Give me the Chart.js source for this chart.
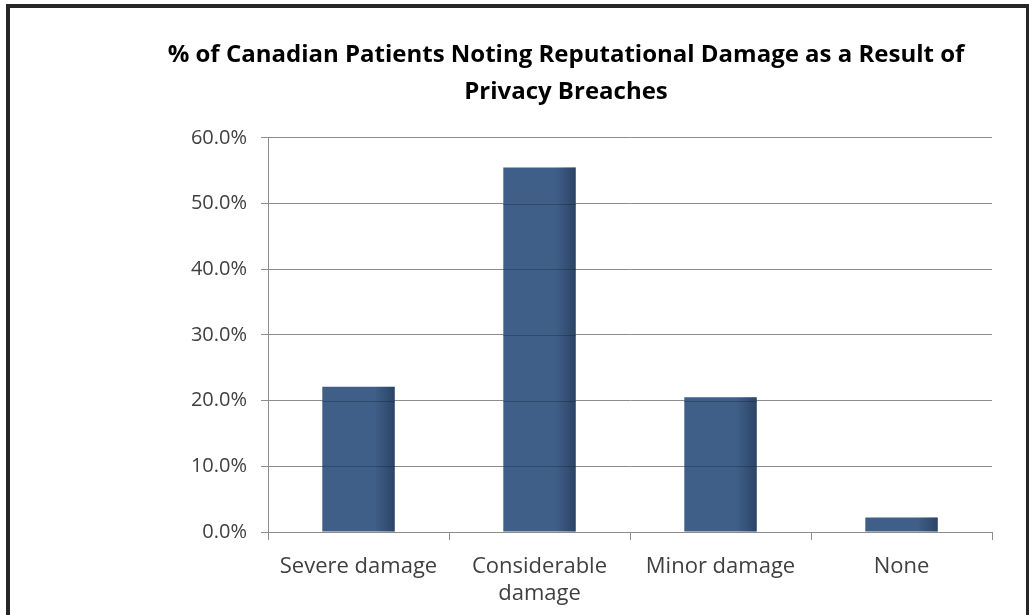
<!DOCTYPE html>
<html>
<head>
<meta charset="utf-8">
<script src="https://cdn.jsdelivr.net/npm/chart.js@4.4.0/dist/chart.umd.min.js"></script>
<style>
  body { margin: 0; background: #fff; }
  #wrap { position: relative; width: 1029px; height: 615px; overflow: hidden; }
  #frame {
    position: absolute; left: 6px; top: 4px; width: 1016px; height: 640px;
    border-top: 4px solid #262626; border-left: 4px solid #262626; border-right: 3px solid #262626;
  }
  #chart { position: absolute; left: 0; top: 0; }
</style>
</head>
<body>
<div id="wrap">
  <div id="frame"></div>
  <canvas id="chart" width="1029" height="615"></canvas>
</div>
<script>
const titleLines = ['% of Canadian Patients Noting Reputational Damage as a Result of', 'Privacy Breaches'];
const categories = ['Severe damage', ['Considerable', 'damage'], 'Minor damage', 'None'];
const percentValues = [22.1, 55.5, 20.5, 2.2];
const yTicks = [0, 10, 20, 30, 40, 50, 60];

const axisGray = '#8c8c8c';
const textGray = '#404040';

// darker right edge on each bar (Excel bevel) + gridlines showing through the bars
const barShade = {
  id: 'barShade',
  afterDatasetsDraw(chart) {
    const ctx = chart.ctx;
    const yScale = chart.scales.y;
    chart.getDatasetMeta(0).data.forEach(bar => {
      const p = bar.getProps(['x', 'y', 'base', 'width'], true);
      const left = p.x - p.width / 2;
      const g = ctx.createLinearGradient(left, 0, left + p.width, 0);
      g.addColorStop(0, 'rgba(20,35,60,0)');
      g.addColorStop(0.72, 'rgba(20,35,60,0)');
      g.addColorStop(1, 'rgba(20,35,60,0.45)');
      ctx.save();
      ctx.fillStyle = g;
      ctx.fillRect(left, p.y, p.width, p.base - p.y);
      ctx.strokeStyle = 'rgba(10,20,40,0.3)';
      ctx.lineWidth = 1;
      yTicks.forEach(v => {
        const py = Math.round(yScale.getPixelForValue(v)) + 0.5;
        if (py > p.y + 1 && py < p.base - 1) {
          ctx.beginPath();
          ctx.moveTo(left, py);
          ctx.lineTo(left + p.width, py);
          ctx.stroke();
        }
      });
      ctx.restore();
    });
  }
};

const ctx = document.getElementById('chart').getContext('2d');
new Chart(ctx, {
  type: 'bar',
  data: {
    labels: categories,
    datasets: [{
      data: percentValues,
      backgroundColor: '#3f5f88',
      borderWidth: 0,
      categoryPercentage: 1,
      barPercentage: 0.4
    }]
  },
  options: {
    responsive: false,
    animation: false,
    layout: { padding: { left: 140, right: 37, top: 36, bottom: 0 } },
    plugins: {
      legend: { display: false },
      tooltip: { enabled: false },
      title: {
        display: true,
        text: titleLines,
        color: '#000',
        font: { family: 'Open Sans', size: 24, weight: 'bold', lineHeight: 1.56 },
        padding: { top: 0, bottom: 27 }
      }
    },
    scales: {
      x: {
        afterFit: s => { s.height = 83; },
        grid: { drawOnChartArea: false, tickLength: 8, color: axisGray, offset: true },
        border: { color: axisGray },
        ticks: {
          color: textGray,
          font: { family: 'Open Sans', size: 22, lineHeight: 1.2 },
          padding: 14,
          maxRotation: 0,
          autoSkip: false
        }
      },
      y: {
        min: 0,
        max: 60,
        afterFit: s => { s.width = 128; },
        afterBuildTicks: s => { s.ticks = yTicks.map(v => ({ value: v })); },
        grid: { color: axisGray, tickLength: 7 },
        border: { color: axisGray },
        ticks: {
          color: textGray,
          font: { family: 'Open Sans', size: 20 },
          padding: 14,
          callback: v => v.toFixed(1) + '%'
        }
      }
    }
  },
  plugins: [barShade]
});
</script>
</body>
</html>
